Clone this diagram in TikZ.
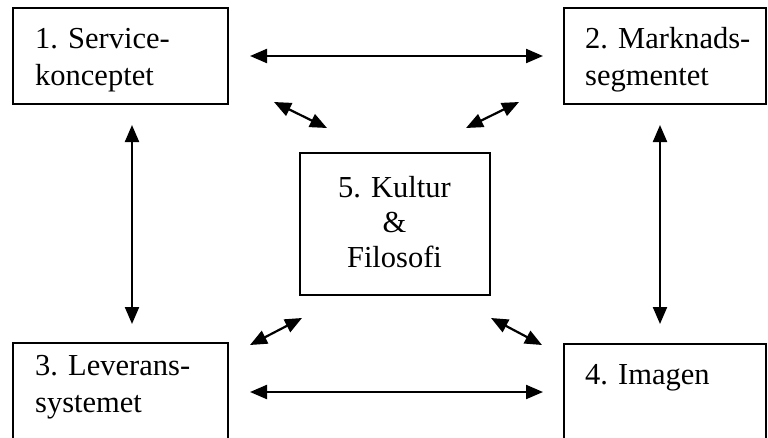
\documentclass[tikz,border=0pt]{standalone}
\usepackage{fontspec}
\setmainfont{Liberation Serif}
\usetikzlibrary{arrows.meta}
\tikzset{
  box/.style={draw, line width=2pt, rectangle, inner sep=0pt},
  lbl/.style={anchor=base west, inner sep=0pt, font=\fontsize{30.5}{36}\selectfont},
  clbl/.style={anchor=base, inner sep=0pt, font=\fontsize{30.5}{36}\selectfont},
  arr/.style={line width=2.2pt, {Triangle[length=17pt,width=14pt]}-{Triangle[length=17pt,width=14pt]}}
}
\begin{document}
\begin{tikzpicture}[x=1pt,y=-1pt]
\useasboundingbox (0,0) rectangle (768,437);
\clip (0,0) rectangle (768,437);
% boxes
\node[box, minimum width=215pt, minimum height=96pt] (b1) at (120,56) {};
\node[box, minimum width=202pt, minimum height=96pt] (b2) at (665,56) {};
\node[box, minimum width=215pt, minimum height=110pt] (b3) at (120,398) {};
\node[box, minimum width=202pt, minimum height=110pt] (b4) at (665,399) {};
\node[box, minimum width=190pt, minimum height=142pt] (b5) at (394.5,223.5) {};
% texts
\node[lbl] (t1a) at (35,48) {1. Service-};
\node[lbl] (t1b) at (35,85) {konceptet};
\node[lbl] (t2a) at (585,48) {2. Marknads-};
\node[lbl] (t2b) at (585,85) {segmentet};
\node[lbl] (t3a) at (35,375) {3. Leverans-};
\node[lbl] (t3b) at (35,412) {systemet};
\node[lbl] (t4) at (585,384) {4. Imagen};
\node[clbl] (t5a) at (394.5,197) {5. Kultur};
\node[clbl] (t5b) at (394.5,232) {\&};
\node[clbl] (t5c) at (394.5,267) {Filosofi};
% connector ends
\coordinate (h1a) at (250,56);  \coordinate (h1b) at (543,56);
\coordinate (h2a) at (250,392); \coordinate (h2b) at (543,392);
\coordinate (v1a) at (132,125); \coordinate (v1b) at (132,324);
\coordinate (v2a) at (660,125); \coordinate (v2b) at (660,324);
\coordinate (d1a) at (274,102); \coordinate (d1b) at (327,128);
\coordinate (d2a) at (466,128); \coordinate (d2b) at (519,102);
\coordinate (d3a) at (250,345); \coordinate (d3b) at (302,318);
\coordinate (d4a) at (491,318); \coordinate (d4b) at (542,345);
% arrows
\draw[arr] (h1a) -- (h1b);
\draw[arr] (h2a) -- (h2b);
\draw[arr] (v1a) -- (v1b);
\draw[arr] (v2a) -- (v2b);
\draw[arr] (d1a) -- (d1b);
\draw[arr] (d2a) -- (d2b);
\draw[arr] (d3a) -- (d3b);
\draw[arr] (d4a) -- (d4b);
\end{tikzpicture}
\end{document}
